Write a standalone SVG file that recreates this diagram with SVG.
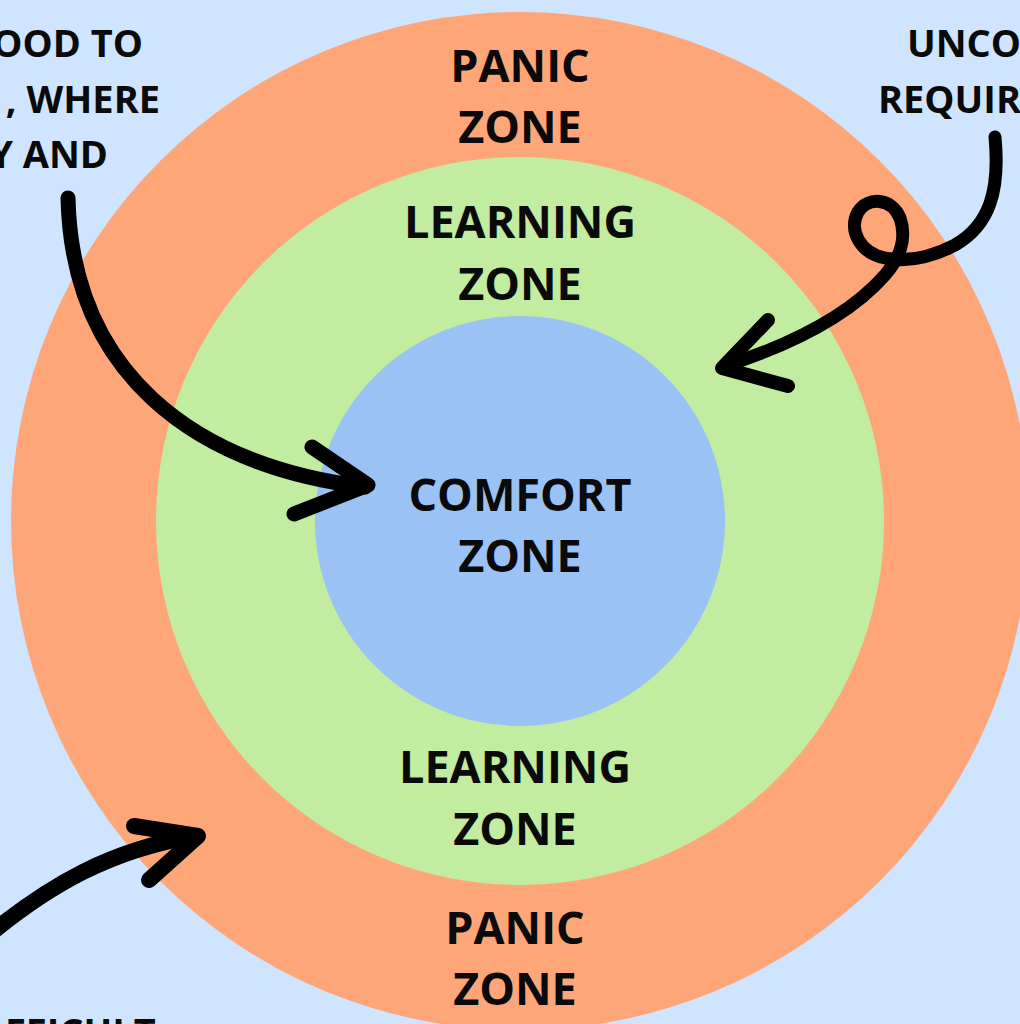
<svg xmlns="http://www.w3.org/2000/svg" width="1020" height="1024" viewBox="0 0 1020 1024">
<style>
.lbl{font-family:"Open Sans","Noto Sans","DejaVu Sans",sans-serif;font-weight:700;font-size:45px;fill:#0a0a0a;text-anchor:middle}
.side{font-family:"Open Sans","Noto Sans","DejaVu Sans",sans-serif;font-weight:700;font-size:38px;fill:#0a0a0a}
.arr{fill:none;stroke:#000;stroke-linecap:round;stroke-linejoin:round}
</style>
<rect width="1020" height="1024" fill="#CFE4FE"/>
<g id="panic-zone">
<circle cx="520" cy="521" r="509" fill="#FFA679"/>
<text class="lbl" x="520" y="82">PANIC</text>
<text class="lbl" x="520" y="143">ZONE</text>
<text class="lbl" x="515" y="944">PANIC</text>
<text class="lbl" x="515" y="1005">ZONE</text>
</g>
<g id="learning-zone">
<circle cx="520" cy="521" r="364" fill="#C2EC9F"/>
<text class="lbl" x="520" y="238">LEARNING</text>
<text class="lbl" x="520" y="300">ZONE</text>
<text class="lbl" x="515" y="783">LEARNING</text>
<text class="lbl" x="515" y="845">ZONE</text>
</g>
<g id="comfort-zone">
<circle cx="520" cy="521" r="205" fill="#9BC2F5"/>
<text class="lbl" x="520" y="511">COMFORT</text>
<text class="lbl" x="520" y="572">ZONE</text>
</g>
<g id="note-left">
<text class="side" x="143" y="57" text-anchor="end">GOOD TO</text>
<text class="side" x="160" y="113" text-anchor="end">, WHERE</text>
<text class="side" x="108" y="168" text-anchor="end">Y AND</text>
</g>
<g id="note-right">
<text class="side" x="907" y="57">UNCOM</text>
<text class="side" x="878" y="113">REQUIRE</text>
</g>
<g id="note-bottom">
<text class="side" x="5" y="1046">FFICULT</text>
</g>
<g id="connectors">
<path class="arr" stroke-width="15" d="M68,198 C72,370 190,465 365,487"/>
<polyline class="arr" stroke-width="15" points="312,447 368,485 294,514"/>
<path class="arr" stroke-width="13" d="M995,137 C1000,190 990,225 955,245 C930,258 905,262 885,258 C860,253 848,230 858,212 C868,196 892,198 900,218 C907,238 900,258 885,275 C850,315 790,345 725,366"/>
<polyline class="arr" stroke-width="14" points="768,320 722,368 788,386"/>
<path class="arr" stroke-width="16" d="M-10,934 C50,885 110,850 195,836"/>
<polyline class="arr" stroke-width="16" points="134,826 198,836 149,880"/>
</g>
</svg>
